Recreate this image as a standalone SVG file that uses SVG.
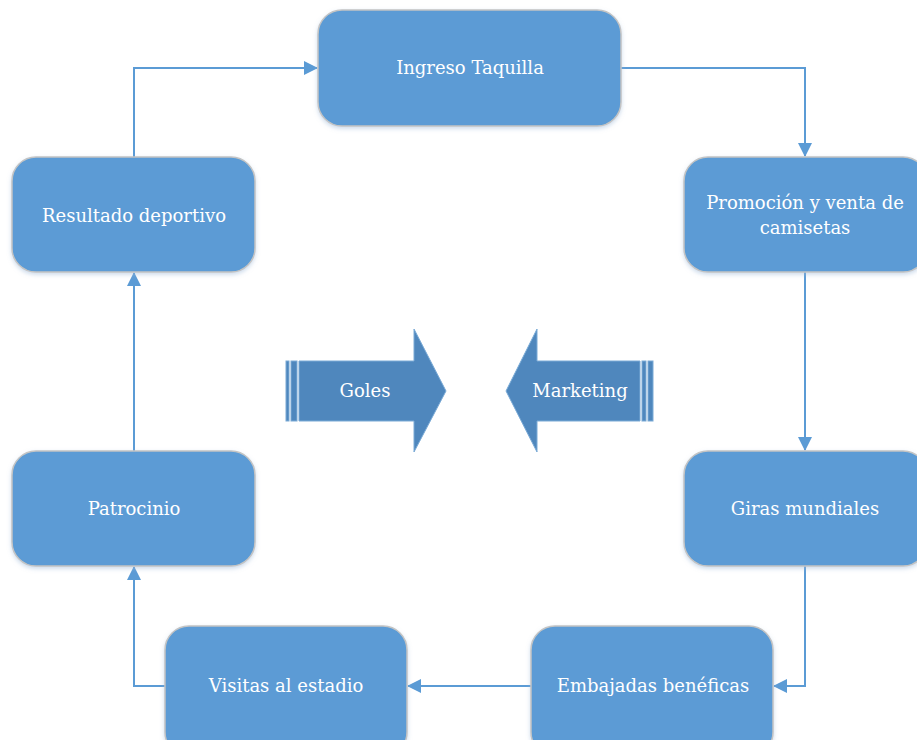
<svg xmlns="http://www.w3.org/2000/svg" width="917" height="740" viewBox="0 0 917 740">
<defs>
<style>
.box{fill:#5b9bd5;stroke:#c4c4c4;stroke-width:1.5}
.t{font-family:"DejaVu Serif","Liberation Serif",serif;font-size:18px;fill:#ffffff;text-anchor:middle}
.c{fill:none;stroke:#5b9bd5;stroke-width:2}
.ba{fill:#4f87bd;stroke:#7aaad6;stroke-width:1}
</style>
<filter id="sh" x="-10%" y="-10%" width="120%" height="130%">
<feDropShadow dx="0" dy="2" stdDeviation="2" flood-color="#9bb8d8" flood-opacity="0.5"/>
</filter>
<marker id="ah" markerWidth="14" markerHeight="14" refX="13" refY="7" orient="auto" markerUnits="userSpaceOnUse" viewBox="0 0 14 14">
<path d="M0,0 L14,7 L0,14 z" fill="#5b9bd5"/>
</marker>
</defs>
<rect width="917" height="740" fill="#ffffff"/>
<g id="connectors">
<path class="c" d="M621,68 H805 V156" marker-end="url(#ah)"/>
<path class="c" d="M805,272 V450" marker-end="url(#ah)"/>
<path class="c" d="M805,566 V686 H774" marker-end="url(#ah)"/>
<path class="c" d="M531,686 H408" marker-end="url(#ah)"/>
<path class="c" d="M165,686 H134 V567" marker-end="url(#ah)"/>
<path class="c" d="M134,451 V273" marker-end="url(#ah)"/>
<path class="c" d="M134,157 V68 H317" marker-end="url(#ah)"/>
</g>
<g id="ingreso"><rect class="box" filter="url(#sh)" x="318" y="10" width="303" height="116" rx="24"/><text class="t" x="470" y="74">Ingreso Taquilla</text></g>
<g id="promocion"><rect class="box" filter="url(#sh)" x="684" y="157" width="243" height="115" rx="24"/><text class="t" x="805" y="209">Promoción y venta de</text><text class="t" x="805" y="234">camisetas</text></g>
<g id="giras"><rect class="box" filter="url(#sh)" x="684" y="451" width="243" height="115" rx="24"/><text class="t" x="805" y="515">Giras mundiales</text></g>
<g id="embajadas"><rect class="box" filter="url(#sh)" x="531" y="626" width="242" height="130" rx="24"/><text class="t" x="653" y="692">Embajadas benéficas</text></g>
<g id="visitas"><rect class="box" filter="url(#sh)" x="165" y="626" width="242" height="130" rx="24"/><text class="t" x="286" y="692">Visitas al estadio</text></g>
<g id="patrocinio"><rect class="box" filter="url(#sh)" x="12" y="451" width="243" height="115" rx="24"/><text class="t" x="134" y="515">Patrocinio</text></g>
<g id="resultado"><rect class="box" filter="url(#sh)" x="12" y="157" width="243" height="115" rx="24"/><text class="t" x="134" y="222">Resultado deportivo</text></g>
<g id="goles">
<rect class="ba" x="286" y="361" width="3" height="60"/>
<rect class="ba" x="291" y="361" width="6" height="60"/>
<path class="ba" d="M299,361 H414 V329 L446,391 L414,452 V421 H299 z"/>
<text class="t" x="365" y="397">Goles</text>
</g>
<g id="marketing">
<rect class="ba" x="648" y="361" width="5" height="60"/>
<rect class="ba" x="642" y="361" width="4" height="60"/>
<path class="ba" d="M640,361 H537 V329 L506,391 L537,452 V421 H640 z"/>
<text class="t" x="580" y="397">Marketing</text>
</g>
</svg>
